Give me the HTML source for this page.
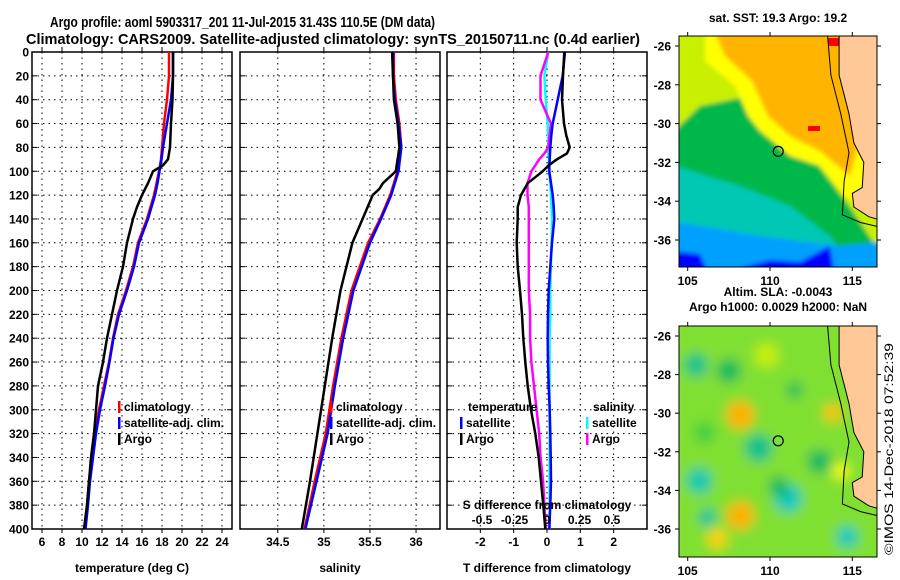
<!DOCTYPE html>
<html><head><meta charset="utf-8">
<style>
html,body{margin:0;padding:0;background:#fff;}
svg{display:block;font-family:"Liberation Sans",sans-serif;}
.t{font-weight:bold;font-size:12px;fill:#000;}
.ttl{font-weight:bold;font-size:15px;fill:#000;}
</style></head>
<body>
<svg id="chart" width="900" height="580" viewBox="0 0 900 580" xmlns="http://www.w3.org/2000/svg">
<text x="50" y="27" class="ttl" textLength="385" lengthAdjust="spacingAndGlyphs">Argo profile: aoml 5903317_201 11-Jul-2015 31.43S 110.5E (DM data)</text>
<text x="26" y="44" class="ttl" textLength="614" lengthAdjust="spacingAndGlyphs">Climatology: CARS2009. Satellite-adjusted climatology: synTS_20150711.nc (0.4d earlier)</text>
<g id="maps"></g>
<g id="plots"></g>
<text transform="translate(893,555) rotate(-90)" font-size="12" textLength="212" lengthAdjust="spacingAndGlyphs">©IMOS 14-Dec-2018 07:52:39</text>
</svg>
<script>
// ---- data ----
const depthTicks=[0,20,40,60,80,100,120,140,160,180,200,220,240,260,280,300,320,340,360,380,400];
const tempTicks=[6,8,10,12,14,16,18,20,22,24];
const salTicks=[34.5,35,35.5,36];
const salTickLabels=["34.5","35","35.5","36"];
const tdiffTicks=[-2,-1,0,1,2];
const sdiffTicks=[-0.5,-0.25,0,0.25,0.5];
const sdiffTickLabels=["-0.5","-0.25","0","0.25","0.5"];

const tDepth=[0,20,40,60,80,90,95,100,110,120,130,140,160,180,200,220,240,260,280,300,320,340,360,380,400];
const tArgo=[19.1,19.1,19.05,18.9,18.8,18.6,18.1,17.1,16.6,16.0,15.5,15.1,14.5,14.1,13.5,13.0,12.5,12.1,11.6,11.4,11.2,10.9,10.7,10.5,10.2];
const tClim=[18.7,18.7,18.5,18.2,18.0,17.9,17.8,17.7,17.45,17.2,16.85,16.5,15.6,15.1,14.4,13.6,13.1,12.7,12.2,11.7,11.3,11.0,10.7,10.5,10.3];
const tSat=[19.1,19.1,18.9,18.5,18.1,17.95,17.85,17.75,17.55,17.3,16.95,16.6,15.7,15.2,14.5,13.7,13.15,12.75,12.3,11.8,11.4,11.1,10.8,10.6,10.35];

const sDepth=[0,20,40,60,80,100,110,115,120,140,160,200,240,280,300,320,360,400];
const sArgo=[35.74,35.75,35.76,35.8,35.82,35.78,35.64,35.6,35.53,35.42,35.31,35.18,35.09,35.01,34.97,34.93,34.85,34.76];
const sClim=[35.76,35.76,35.78,35.82,35.84,35.8,35.76,35.74,35.72,35.61,35.48,35.3,35.19,35.1,35.06,35.02,34.9,34.79];
const sSat=[35.75,35.75,35.77,35.81,35.84,35.81,35.77,35.75,35.73,35.62,35.5,35.32,35.21,35.12,35.08,35.04,34.92,34.8];

const dDepth=[0,20,40,60,70,80,85,90,95,100,110,120,130,140,160,180,200,220,240,260,280,300,320,340,360,380,400];
const dtArgo=[0.52,0.48,0.45,0.51,0.58,0.68,0.6,0.3,0.05,-0.13,-0.58,-0.78,-0.88,-0.88,-0.91,-0.88,-0.81,-0.75,-0.71,-0.65,-0.58,-0.48,-0.35,-0.25,-0.18,-0.11,-0.05];
const dtSat=[0.54,0.47,0.32,0.17,0.13,0.1,0.09,0.08,0.07,0.07,0.12,0.17,0.2,0.22,0.15,0.1,0.05,0.03,0.02,0.03,0.05,0.08,0.1,0.11,0.12,0.1,0.07];
const dsArgo=[0.01,-0.05,-0.05,0.03,0.02,0.01,-0.02,-0.06,-0.09,-0.12,-0.15,-0.15,-0.14,-0.14,-0.14,-0.14,-0.14,-0.13,-0.13,-0.12,-0.10,-0.08,-0.06,-0.05,-0.03,-0.02,-0.01];
const dsSat=[0.01,-0.02,-0.01,0.005,0.01,0.01,0.01,0.015,0.015,0.015,0.025,0.03,0.035,0.04,0.035,0.03,0.025,0.025,0.02,0.02,0.02,0.02,0.02,0.02,0.02,0.02,0.02];

const mapLonTicks=[105,110,115];
const mapLatTicks=[-26,-28,-30,-32,-34,-36];
const argoLon=110.5, argoLat=-31.43;

// ---- helpers ----
const NS="http://www.w3.org/2000/svg";
function mk(tag,attrs,parent,txt){const e=document.createElementNS(NS,tag);for(const k in attrs)e.setAttribute(k,attrs[k]);if(txt!==undefined)e.textContent=txt;parent.appendChild(e);return e;}
const plots=document.getElementById('plots');
const Y0=52,Y1=529;
const yD=d=>Y0+(d/400)*(Y1-Y0);

function panel(name,x0,x1,dom,ticks,labels,xlabel,showY){
  const g=mk('g',{},plots);
  
  
  const sx=v=>x0+(v-dom[0])/(dom[1]-dom[0])*(x1-x0);
  depthTicks.forEach((d,i)=>{
    if(i>0&&i<depthTicks.length-1){const l=mk('line',{x1:x0,x2:x1,y1:yD(d),y2:yD(d),stroke:'#000','stroke-width':1,'stroke-dasharray':'1.5,4'},g);
    
    }
    mk('line',{x1:x0,x2:x0+5,y1:yD(d),y2:yD(d),stroke:'#000'},g);
    mk('line',{x1:x1,x2:x1-5,y1:yD(d),y2:yD(d),stroke:'#000'},g);
    if(showY){const t=mk('text',{x:x0-3,y:yD(d)+4.5,'text-anchor':'end',class:'t'},g,String(d));
      
      }
  });
  ticks.forEach((v,i)=>{
    const x=sx(v);
    const l=mk('line',{x1:x,x2:x,y1:Y0,y2:Y1,stroke:'#000','stroke-width':1,'stroke-dasharray':'1.5,4'},g);
    
    
    mk('line',{x1:x,x2:x,y1:Y0,y2:Y0-5,stroke:'#000'},g);
    mk('line',{x1:x,x2:x,y1:Y1,y2:Y1+4,stroke:'#000'},g);
    const t=mk('text',{x:x,y:Y1+17,'text-anchor':'middle',class:'t'},g,labels[i]);
    
    
  });
  const fr=mk('rect',{x:x0,y:Y0,width:x1-x0,height:Y1-Y0,fill:'none',stroke:'#000','stroke-width':1.5},g);
  
  
  const xl=mk('text',{x:(x0+x1)/2,y:572,'text-anchor':'middle',class:'t'},g,xlabel);
  
  
  return {g,sx};
}
function series(p,sx,depths,vals,color,w,name){
  const pts=depths.map((d,i)=>sx(vals[i]).toFixed(1)+','+yD(d).toFixed(1)).join(' ');
  const l=mk('polyline',{points:pts,fill:'none',stroke:color,'stroke-width':w,'stroke-linejoin':'round'},p);
  
  
}
function legend(p,x,y,items){
  items.forEach((it,i)=>{
    mk('rect',{x:x,y:y+i*16-10,width:2.5,height:12,fill:it[1]},p);
    const t=mk('text',{x:x+6,y:y+i*16,class:'t'},p,it[0]);
    
    
  });
}

const P1=panel('temperature-panel',32,232,[5,25],tempTicks,tempTicks.map(String),'temperature (deg C)',true);
series(P1.g,P1.sx,tDepth,tClim,'#ff0000',2.5,'temp-climatology-line');
series(P1.g,P1.sx,tDepth,tSat,'#0000ff',2.5,'temp-satellite-line');
series(P1.g,P1.sx,tDepth,tArgo,'#000',2.5,'temp-argo-line');
legend(P1.g,118,411,[['climatology','#ff0000'],['satellite-adj. clim.','#0000ff'],['Argo','#000']]);

const P2=panel('salinity-panel',240,440,[34.09,36.26],salTicks,salTickLabels,'salinity',false);
series(P2.g,P2.sx,sDepth,sClim,'#ff0000',2.5,'sal-climatology-line');
series(P2.g,P2.sx,sDepth,sSat,'#0000ff',2.5,'sal-satellite-line');
series(P2.g,P2.sx,sDepth,sArgo,'#000',2.5,'sal-argo-line');
legend(P2.g,330,411,[['climatology','#ff0000'],['satellite-adj. clim.','#0000ff'],['Argo','#000']]);

const P3=panel('difference-panel',447,647,[-3,3],tdiffTicks,tdiffTicks.map(String),'T difference from climatology',false);
const sxS=v=>547+v*130;
series(P3.g,sxS,dDepth,dsSat,'#00ffff',2.5,'sdiff-satellite-line');
series(P3.g,sxS,dDepth,dsArgo,'#ff00ff',2.5,'sdiff-argo-line');
series(P3.g,P3.sx,dDepth,dtSat,'#0000ff',2.5,'tdiff-satellite-line');
series(P3.g,P3.sx,dDepth,dtArgo,'#000',2.5,'tdiff-argo-line');
sdiffTicks.forEach((v,i)=>{
  const t=mk('text',{x:sxS(v),y:524,'text-anchor':'middle',class:'t'},P3.g,sdiffTickLabels[i]);
  
  
});
{const t=mk('text',{x:547,y:509,'text-anchor':'middle',class:'t'},P3.g,'S difference from climatology');

}
mk('text',{x:468,y:411,class:'t'},P3.g,'temperature');
mk('text',{x:593,y:411,class:'t'},P3.g,'salinity');
legend(P3.g,460,427,[['satellite','#0000ff'],['Argo','#000']]);
legend(P3.g,586,427,[['satellite','#00ffff'],['Argo','#ff00ff']]);

// ---- maps ----
const maps=document.getElementById('maps');
function drawMap(name,y0,y1,latY26,latY36,title,kind){
  const x0=679,x1=877;
  const g=mk('g',{},maps);
  
  
  const lx=l=>687.7+(l-105)*16.46;
  const ly=l=>latY26+(-26-l)*(latY36-latY26)/10;
  const cid='clip'+name;
  const cp=mk('clipPath',{id:cid},g);mk('rect',{x:x0,y:y0,width:x1-x0,height:y1-y0},cp);
  const c=mk('g',{'clip-path':'url(#'+cid+')'},g);
  const fid='blur'+name;
  const f=mk('filter',{id:fid,x:'-20%',y:'-20%',width:'140%',height:'140%'},g);
  mk('feGaussianBlur',{stdDeviation:kind==='sst'?2:6},f);
  const b=mk('g',{filter:'url(#'+fid+')'},c);
  const P=(arr)=>arr.map(p=>p[0].toFixed(1)+','+p[1].toFixed(1)).join(' ');
  if(kind==='sst'){
    mk('rect',{x:x0-10,y:y0-10,width:220,height:260,fill:'#00b84a'},b);
    mk('polygon',{points:P([[x0-10,y0-10],[890,y0-10],[890,y1],[850,y1-60],[800,y0+105],[760,y0+90],[740,y0+62],[700,y0+70],[x0-10,y0+100]]),fill:'#c8f000'},b);
    mk('polygon',{points:P([[705,y0-10],[890,y0-10],[890,y0+190],[845,y0+160],[820,y0+130],[790,y0+120],[760,y0+95],[748,y0+80],[735,y0+50],[705,y0+25]]),fill:'#ffff00'},b);
    mk('polygon',{points:P([[712,y0-10],[890,y0-10],[850,y0+140],[820,y0+115],[790,y0+100],[768,y0+80],[752,y0+45],[725,y0+20]]),fill:'#ffb400'},b);
    mk('polygon',{points:P([[x0-10,y0+128],[740,y0+150],[790,y0+170],[830,y0+200],[850,y0+230],[890,y0+240],[890,y1+10],[x0-10,y1+10]]),fill:'#00c8b4'},b);
    mk('polygon',{points:P([[x0-10,y0+185],[760,y0+200],[840,y0+210],[890,y0+205],[890,y1+10],[x0-10,y1+10]]),fill:'#00a0ff'},b);
    mk('polygon',{points:P([[740,y0+232],[770,y0+224],[800,y0+226],[830,y0+210],[835,y1+10],[740,y1+10]]),fill:'#0000ff'},b);
    mk('polygon',{points:P([[x0-10,y0+215],[700,y0+218],[710,y1+10],[x0-10,y1+10]]),fill:'#0000ff'},b);
    mk('rect',{x:828,y:y0+2,width:14,height:8,fill:'#ff0000'},c);
    mk('rect',{x:808,y:y0+90,width:12,height:5,fill:'#ff0000'},c);
  } else {
    mk('rect',{x:x0-10,y:y0-10,width:220,height:260,fill:'#80e030'},b);
    const blobs=[[108.2,-30.1,14,'#ffb000'],[113.8,-30.0,9,'#ffc000'],[108.2,-35.3,14,'#ffb000'],[106.8,-36.5,10,'#ffd000'],[114.3,-33.0,8,'#ffff00'],[109.8,-27,12,'#c8f000'],
      [105.7,-33.5,13,'#00c8b0'],[109.3,-31.8,14,'#00c090'],[111.1,-34.4,14,'#00c8c0'],[106.2,-35.4,9,'#00c0a0'],[114.7,-36.4,11,'#00c8c0'],[105.5,-27.5,12,'#00c090'],
      [111.5,-28.8,8,'#00b860'],[113,-32.5,12,'#00b860'],[107.5,-27.8,12,'#00b860'],[106,-31,11,'#40d040'],[110.5,-33.8,10,'#00b860']];
    blobs.forEach(q=>{const e=mk('circle',{cx:lx(q[0]),cy:ly(q[1]),r:q[2],fill:q[3]},b);
      
      });
  }
  const coast=[[lx(114.2),y0-5],[lx(114.2),ly(-27.5)],[lx(114.8),ly(-29.5)],[lx(115.1),ly(-31.0)],[lx(115.7),ly(-32.0)],[lx(115.6),ly(-33.3)],[lx(115.0),ly(-33.6)],[lx(115.1),ly(-34.3)],[lx(116.0),ly(-34.8)],[x1+5,ly(-35.0)],[x1+5,y0-5]];
  const land=mk('polygon',{points:P(coast),fill:'#ffc896',stroke:'#000','stroke-width':1},c);
  
  
  const shelf=[[lx(113.5),y0],[lx(113.7),ly(-27.5)],[lx(114.3),ly(-29.5)],[lx(114.8),ly(-31.5)],[lx(114.5),ly(-33.0)],[lx(114.4),ly(-34.7)],[lx(115.5),ly(-35.1)],[x1,ly(-35.3)]];
  mk('polyline',{points:P(shelf),fill:'none',stroke:'#000','stroke-width':1},c);
  const ring=mk('circle',{cx:lx(argoLon),cy:ly(argoLat),r:5,fill:'none',stroke:'#000','stroke-width':1.2},c);
  
  
  mk('rect',{x:x0,y:y0,width:x1-x0,height:y1-y0,fill:'none',stroke:'#000','stroke-width':1},g);
  mapLonTicks.forEach(l=>{const x=lx(l);
    mk('line',{x1:x,x2:x,y1:y0,y2:y0-4,stroke:'#000'},g);
    mk('line',{x1:x,x2:x,y1:y1,y2:y1+4,stroke:'#000'},g);
    const t=mk('text',{x:x,y:y1+18,'text-anchor':'middle',class:'t'},g,String(l));
    
    });
  mapLatTicks.forEach(l=>{const y=ly(l);
    mk('line',{x1:x0,x2:x0-4,y1:y,y2:y,stroke:'#000'},g);
    mk('line',{x1:x1,x2:x1+4,y1:y,y2:y,stroke:'#000'},g);
    const t=mk('text',{x:x0-8,y:y+4.5,'text-anchor':'end',class:'t'},g,String(l));
    
    });
  title.forEach((s,i)=>{const t=mk('text',{x:778,y:(kind==='sst'?22:y0-30)+i*15,'text-anchor':'middle',class:'t'},g,s);
    
    });
}
drawMap('sst-map',36,267,46,240,['sat. SST: 19.3 Argo: 19.2'],'sst');
drawMap('sla-map',326,557,336,529,['Altim. SLA: -0.0043','Argo h1000: 0.0029 h2000: NaN'],'sla');
</script>
</body></html>
